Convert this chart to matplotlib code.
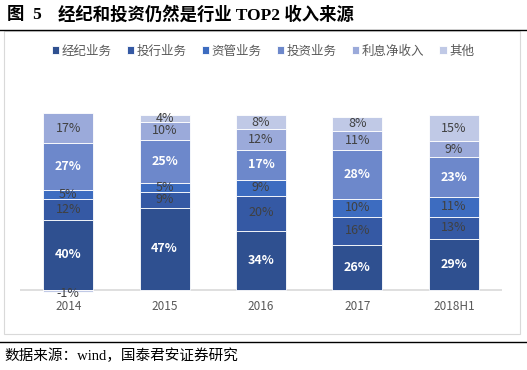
import matplotlib
matplotlib.use("Agg")
import matplotlib.pyplot as plt
from matplotlib.patches import Rectangle
from matplotlib.lines import Line2D
import numpy as np

plt.rcParams['font.family'] = ['Noto Sans CJK SC', 'DejaVu Sans']

categories = ['2014', '2015', '2016', '2017', '2018H1']
series_names = ['经纪业务', '投行业务', '资管业务', '投资业务', '利息净收入', '其他']
brokerage = [40, 47, 34, 26, 29]
ib = [12, 9, 20, 16, 13]
am = [5, 5, 9, 10, 11]
invest = [27, 25, 17, 28, 23]
interest = [17, 10, 12, 11, 9]
other = [-1, 4, 8, 8, 15]
series = [brokerage, ib, am, invest, interest, other]
colors = ['#2F5090', '#3559A4', '#3D6CC0', '#6D88CB', '#9BAADA', '#C0C9E6']
bold_white = [True, False, False, True, False, False]

fig = plt.figure(figsize=(5.27, 3.70), dpi=100)
W, H = 527, 370

def fx(px): return px / W
def fy(py): return 1 - py / H

serif_cjk = ['Liberation Serif', 'Noto Sans CJK SC']
# Title
fig.text(fx(7), fy(15), '图  5', fontsize=12.5, fontweight='bold',
         family=serif_cjk, va='center', ha='left')
fig.text(fx(58), fy(15), '经纪和投资仍然是行业 TOP2 收入来源', fontsize=12.5, fontweight='bold',
         family=serif_cjk, va='center', ha='left')
fig.add_artist(Line2D([0, 1], [fy(29.5), fy(29.5)], color='black', lw=1.0, transform=fig.transFigure))
fig.add_artist(Line2D([0, 1], [fy(342), fy(342)], color='black', lw=1.0, transform=fig.transFigure))
# chart frame
fig.add_artist(Rectangle((fx(4), fy(334)), fx(516), (334 - 31) / H, transform=fig.transFigure,
                         fill=False, edgecolor='#D9D9D9', lw=0.8))
fig.text(fx(4), fy(356), '数据来源：wind，国泰君安证券研究', fontsize=10.5,
         family=serif_cjk, va='center', ha='left')

# Axes: 0 at y=290, 1.75 px per %
ymin, ymax = -2, 110
top_px = 290 - ymax * 1.75
bot_px = 290 - ymin * 1.75
ax = fig.add_axes([fx(20), fy(bot_px), fx(502 - 20), (bot_px - top_px) / H])
x = np.arange(len(categories))
pos_base = np.zeros(len(categories))
neg_base = np.zeros(len(categories))
for vals, c, name, bw in zip(series, colors, series_names, bold_white):
    vals = np.array(vals, dtype=float)
    bottoms = np.where(vals >= 0, pos_base, neg_base)
    ax.bar(x, vals, bottom=bottoms, width=0.52, color=c, edgecolor='white', linewidth=0.6,
           label=name, zorder=2)
    for xi, v, b in zip(x, vals, bottoms):
        if v >= 0:
            yc = b + v / 2
        else:
            yc = b + v - 1.0
        ax.text(xi, yc, f'{int(v)}%', ha='center', va='center', fontsize=9,
                color='white' if bw else '#404040', fontweight='bold' if bw else 'normal', zorder=3)
    pos_base = pos_base + np.where(vals >= 0, vals, 0)
    neg_base = neg_base + np.where(vals < 0, vals, 0)

ax.set_xlim(-0.5, len(categories) - 0.5)
ax.set_ylim(ymin, ymax)
ax.axhline(0, color='#D9D9D9', lw=1.2, zorder=1)
for s in ax.spines.values():
    s.set_visible(False)
ax.set_yticks([])
ax.set_xticks(x)
ax.set_xticklabels(categories, fontsize=8.5, color='#595959')
ax.tick_params(axis='x', length=0, pad=5)
ax.patch.set_alpha(0)

fig.legend(*ax.get_legend_handles_labels(), loc='center', bbox_to_anchor=(fx(263), fy(51)),
           ncol=6, frameon=False, fontsize=9, handlelength=0.6, handleheight=0.6,
           handletextpad=0.2, columnspacing=1.2, labelcolor='#595959')

fig.savefig('out.png', dpi=100)
